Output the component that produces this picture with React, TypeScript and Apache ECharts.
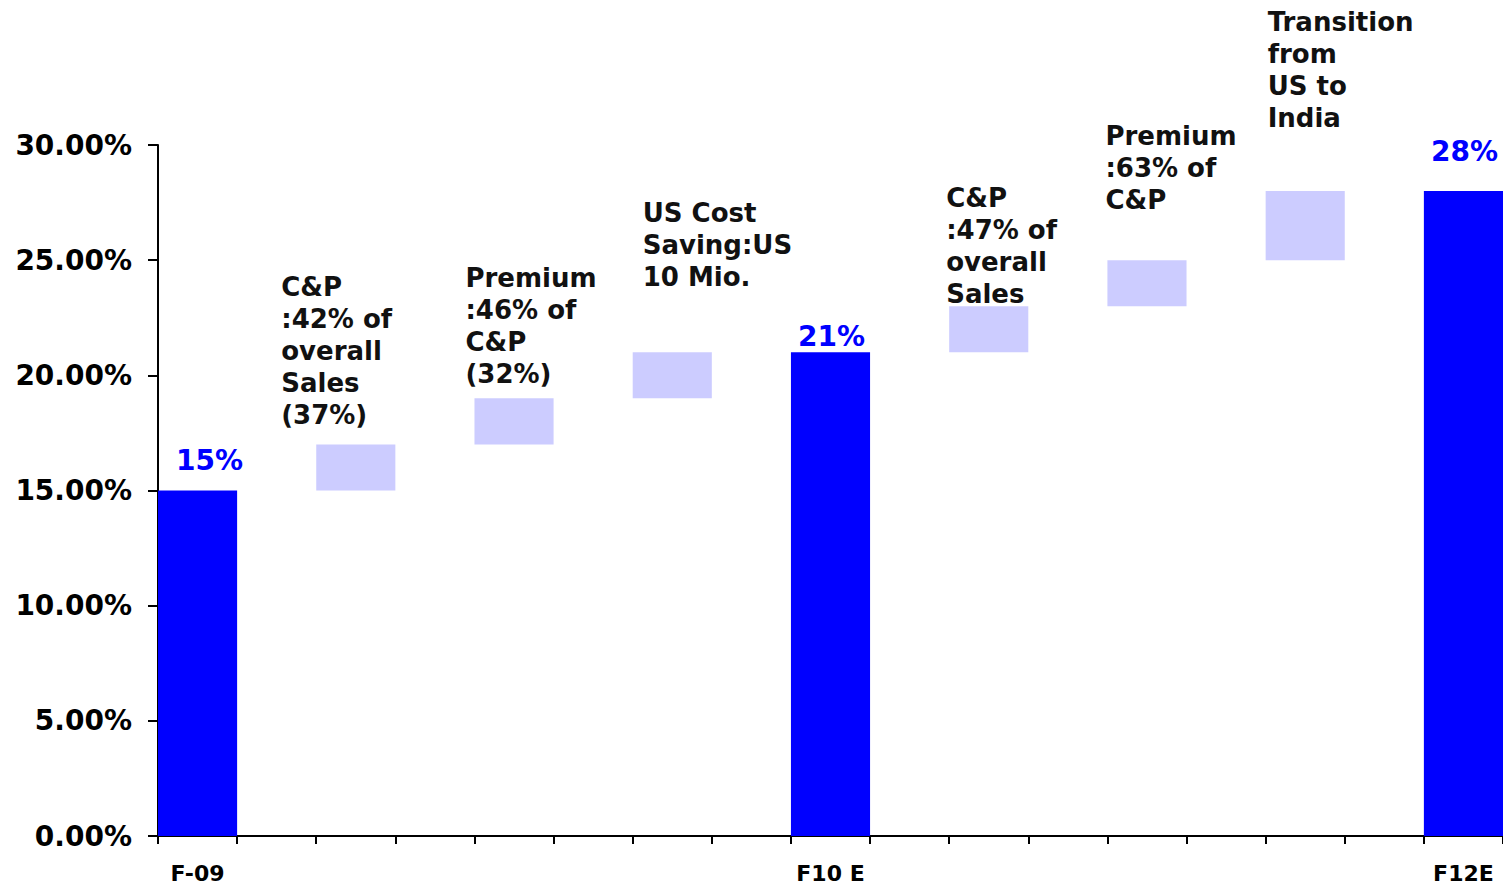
import React, { useEffect, useRef } from "react";
import * as echarts from "echarts";

// 17 slots on the category axis: totals at 0, 8, 16; steps at 2,4,6,10,12,14
const categories = ["F-09", "", "", "", "", "", "", "", "F10 E", "", "", "", "", "", "", "", "F12E"];
const totalIndex = [0, 8, 16];
const totalValues = [15, 21, 28];
const totalLabels = ["15%", "21%", "28%"];
const stepIndex = [2, 4, 6, 10, 12, 14];
const stepBase = [15, 17, 19, 21, 23, 25];
const stepTop = [17, 19, 21, 23, 25, 28];
const stepTexts = [
  "C&P\n:42% of\noverall\nSales\n(37%)",
  "Premium\n:46% of\nC&P\n(32%)",
  "US Cost\nSaving:US\n10 Mio.",
  "C&P\n:47% of\noverall\nSales",
  "Premium\n:63% of\nC&P",
  "Transition\nfrom\nUS to\nIndia",
];
const yTicks = [0, 5, 10, 15, 20, 25, 30];

// label placement (relative to bar top-left), styling only
const stepLabelPos = [
  [-35, -173],
  [-9, -136],
  [10, -155],
  [-3, -124],
  [-2, -140],
  [2, -185],
];
const totalLabelOffset = [
  [12, -16],
  [1, -2],
  [1, -26],
];

const FONT = "'DejaVu Sans', Verdana, sans-serif";

export default function App() {
  const ref = useRef<HTMLDivElement>(null);
  useEffect(() => {
    if (!ref.current) return;
    const chart = echarts.init(ref.current, null, { renderer: "svg" });
    const n = categories.length;
    const baseData: any[] = new Array(n).fill("-");
    const stepData: any[] = new Array(n).fill("-");
    const totalData: any[] = new Array(n).fill("-");
    stepIndex.forEach((ci, i) => {
      baseData[ci] = stepBase[i];
      stepData[ci] = {
        value: stepTop[i] - stepBase[i],
        label: {
          show: true,
          formatter: stepTexts[i],
          position: stepLabelPos[i],
          align: "left",
          verticalAlign: "top",
        },
      };
    });
    totalIndex.forEach((ci, i) => {
      totalData[ci] = {
        value: totalValues[i],
        label: {
          show: true,
          formatter: totalLabels[i],
          position: "top",
          distance: 0,
          offset: totalLabelOffset[i],
        },
      };
    });
    chart.setOption({
      animation: false,
      backgroundColor: "#ffffff",
      grid: { left: 158, right: 0, top: 145, bottom: 50, containLabel: false },
      xAxis: {
        type: "category",
        data: categories,
        boundaryGap: true,
        axisLine: { show: true, lineStyle: { color: "#000", width: 2 } },
        axisTick: { show: true, interval: 0, length: 8, lineStyle: { color: "#000", width: 2 } },
        axisLabel: {
          interval: 0,
          margin: 26,
          color: "#000",
          fontFamily: FONT,
          fontWeight: "bold",
          fontSize: 22,
        },
        splitLine: { show: false },
      },
      yAxis: {
        type: "value",
        min: yTicks[0],
        max: yTicks[yTicks.length - 1],
        interval: 5,
        axisLine: { show: true, lineStyle: { color: "#000", width: 2 } },
        axisTick: { show: true, length: 10, lineStyle: { color: "#000", width: 2 } },
        axisLabel: {
          margin: 26,
          color: "#000",
          fontFamily: FONT,
          fontWeight: "bold",
          fontSize: 28,
          formatter: (v: number) => v.toFixed(2) + "%",
        },
        splitLine: { show: false },
      },
      series: [
        {
          type: "bar",
          stack: "w",
          data: baseData,
          barCategoryGap: 0,
          itemStyle: { color: "transparent" },
          emphasis: { disabled: true },
          silent: true,
        },
        {
          type: "bar",
          stack: "w",
          data: stepData,
          barCategoryGap: 0,
          itemStyle: { color: "#CCCCFF" },
          label: {
            color: "#111",
            fontFamily: FONT,
            fontWeight: "bold",
            fontSize: 26,
            lineHeight: 32,
          },
          emphasis: { disabled: true },
        },
        {
          type: "bar",
          stack: "w",
          data: totalData,
          barCategoryGap: 0,
          itemStyle: { color: "#0000FF" },
          label: {
            color: "#0000FF",
            fontFamily: FONT,
            fontWeight: "bold",
            fontSize: 28,
          },
          emphasis: { disabled: true },
        },
      ],
    });
    return () => chart.dispose();
  }, []);
  return (
    <div
      ref={ref}
      style={{ position: "fixed", left: 0, top: 0, width: 1503, height: 886, background: "#fff" }}
    />
  );
}
